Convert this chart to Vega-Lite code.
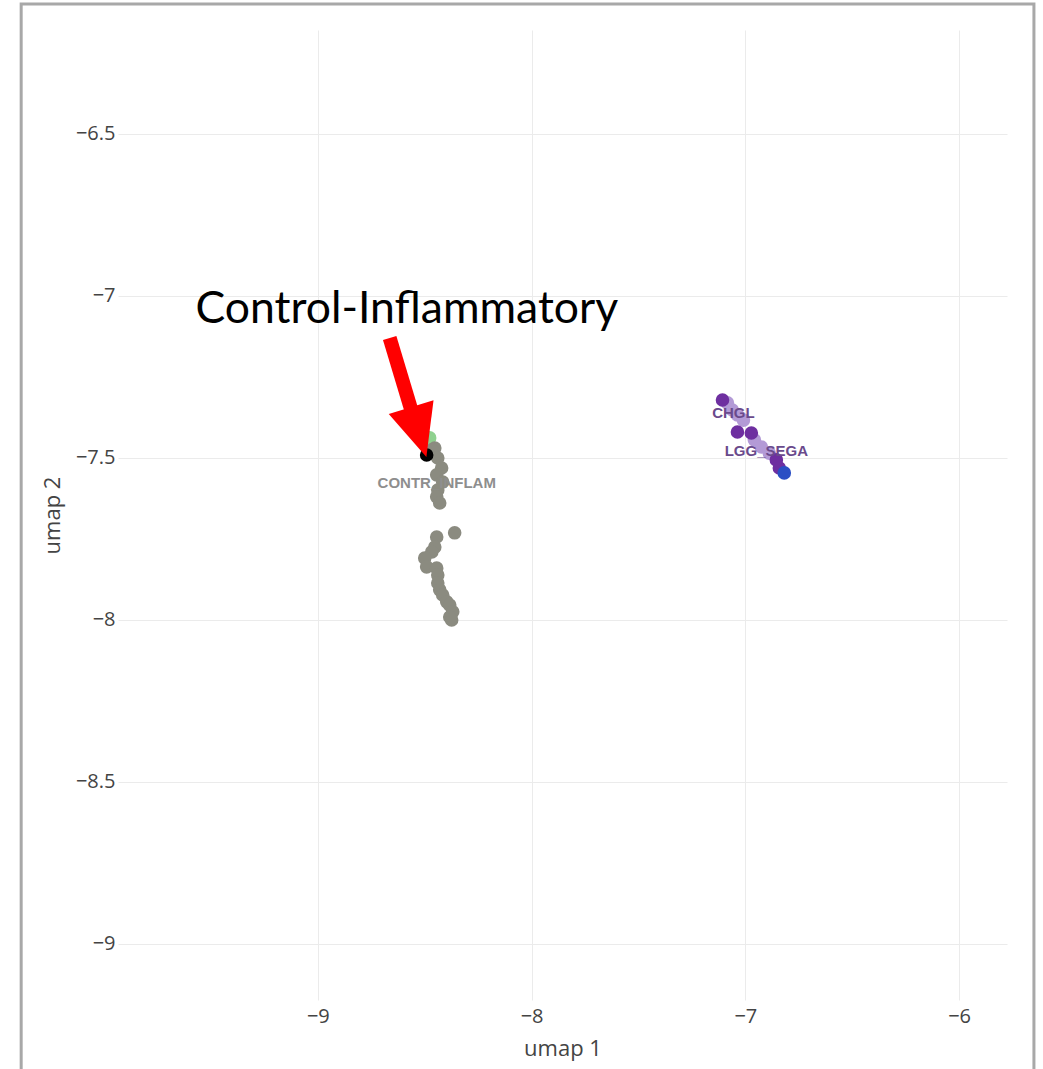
{
  "$schema": "https://vega.github.io/schema/vega-lite/v6.json",
  "width": 889,
  "height": 970,
  "autosize": {"type": "none"},
  "padding": {"left": 118, "top": 30, "right": 36, "bottom": 69},
  "background": "white",
  "config": {
    "view": {"stroke": null},
    "axis": {
      "domain": false,
      "ticks": false,
      "grid": true,
      "gridColor": "#ebebeb",
      "gridWidth": 1,
      "labelFont": "Open Sans",
      "labelFontSize": 20,
      "labelColor": "#444444",
      "titleFont": "Open Sans",
      "titleFontSize": 22,
      "titleFontWeight": "normal",
      "titleColor": "#444444"
    }
  },
  "datasets": {
    "frame": [{"x": -10.388, "xe": -5.65, "y": -6.099, "ye": -9.45}],
    "pts": [
      {"x": -8.477, "y": -7.438, "g": "green"},
      {"x": -8.453, "y": -7.469, "g": "gray"},
      {"x": -8.467, "y": -7.475, "g": "gray"},
      {"x": -8.439, "y": -7.5, "g": "gray"},
      {"x": -8.421, "y": -7.531, "g": "gray"},
      {"x": -8.444, "y": -7.552, "g": "gray"},
      {"x": -8.416, "y": -7.574, "g": "gray"},
      {"x": -8.439, "y": -7.599, "g": "gray"},
      {"x": -8.444, "y": -7.62, "g": "gray"},
      {"x": -8.43, "y": -7.639, "g": "gray"},
      {"x": -8.36, "y": -7.731, "g": "gray"},
      {"x": -8.444, "y": -7.744, "g": "gray"},
      {"x": -8.453, "y": -7.775, "g": "gray"},
      {"x": -8.467, "y": -7.79, "g": "gray"},
      {"x": -8.5, "y": -7.809, "g": "gray"},
      {"x": -8.491, "y": -7.836, "g": "gray"},
      {"x": -8.444, "y": -7.84, "g": "gray"},
      {"x": -8.439, "y": -7.861, "g": "gray"},
      {"x": -8.439, "y": -7.886, "g": "gray"},
      {"x": -8.43, "y": -7.907, "g": "gray"},
      {"x": -8.416, "y": -7.923, "g": "gray"},
      {"x": -8.397, "y": -7.944, "g": "gray"},
      {"x": -8.383, "y": -7.954, "g": "gray"},
      {"x": -8.369, "y": -7.975, "g": "gray"},
      {"x": -8.383, "y": -7.991, "g": "gray"},
      {"x": -8.374, "y": -8.0, "g": "gray"},
      {"x": -8.491, "y": -7.491, "g": "black"},
      {"x": -7.084, "y": -7.33, "g": "light"},
      {"x": -7.061, "y": -7.352, "g": "light"},
      {"x": -7.037, "y": -7.367, "g": "light"},
      {"x": -7.009, "y": -7.383, "g": "light"},
      {"x": -6.958, "y": -7.444, "g": "light"},
      {"x": -6.925, "y": -7.466, "g": "light"},
      {"x": -6.888, "y": -7.485, "g": "light"},
      {"x": -7.107, "y": -7.321, "g": "dark"},
      {"x": -7.037, "y": -7.42, "g": "dark"},
      {"x": -6.972, "y": -7.423, "g": "dark"},
      {"x": -6.855, "y": -7.506, "g": "dark"},
      {"x": -6.841, "y": -7.531, "g": "dark"},
      {"x": -6.818, "y": -7.546, "g": "blue"}
    ],
    "labels": [
      {"x": -8.444, "y": -7.577, "label": "CONTR_INFLAM", "g": "ctrl"},
      {"x": -7.056, "y": -7.361, "label": "CHGL", "g": "purple"},
      {"x": -6.902, "y": -7.478, "label": "LGG_SEGA", "g": "purple"}
    ],
    "annot": [{"x": -8.584, "y": -7.083, "label": "Control-Inflammatory"}],
    "shaft": [{"x": -8.664, "y": -7.13, "xe": -8.556, "ye": -7.367}],
    "head": [{"x": -8.528, "y": -7.42}]
  },
  "layer": [
    {
      "data": {"name": "pts"},
      "mark": {"type": "circle", "size": 185, "opacity": 1},
      "encoding": {
        "x": {"field": "x", "type": "quantitative", "title": "umap 1",
          "scale": {"domain": [-9.935, -5.776], "nice": false, "zero": false},
          "axis": {"values": [-9, -8, -7, -6], "format": "~g", "labelPadding": 6, "titlePadding": 12}},
        "y": {"field": "y", "type": "quantitative", "title": "umap 2",
          "scale": {"domain": [-9.173, -6.179], "nice": false, "zero": false},
          "axis": {"values": [-6.5, -7, -7.5, -8, -8.5, -9], "format": "~g", "labelPadding": 3, "titlePadding": 11}},
        "color": {"field": "g", "type": "nominal", "legend": null,
          "scale": {"domain": ["green", "gray", "black", "light", "dark", "blue"],
                    "range": ["#8fd18f", "#8b8b80", "#000000", "#b39ad6", "#6e2fa0", "#2b4fc4"]}},
        "opacity": {"field": "g", "type": "nominal", "legend": null,
          "scale": {"domain": ["green", "gray", "black", "light", "dark", "blue"],
                    "range": [1, 1, 1, 0.7, 1, 1]}}
      }
    },
    {
      "data": {"name": "labels"},
      "mark": {"type": "text", "font": "Liberation Sans", "fontWeight": "bold", "fontSize": 15, "align": "center", "baseline": "middle"},
      "encoding": {
        "x": {"field": "x", "type": "quantitative", "title": "umap 1"},
        "y": {"field": "y", "type": "quantitative", "title": "umap 2"},
        "text": {"field": "label"},
        "color": {"field": "g", "type": "nominal", "legend": null,
          "scale": {"domain": ["ctrl", "purple"], "range": ["#8e8e8e", "#6a4a8c"]}}
      }
    },
    {
      "data": {"name": "frame"},
      "mark": {"type": "rect", "filled": false, "stroke": "#a8a8a8", "strokeWidth": 3, "clip": false},
      "encoding": {
        "x": {"field": "x", "type": "quantitative", "title": "umap 1"},
        "x2": {"field": "xe"},
        "y": {"field": "y", "type": "quantitative", "title": "umap 2"},
        "y2": {"field": "ye"}
      }
    },
    {
      "data": {"name": "shaft"},
      "mark": {"type": "rule", "color": "#ff0000", "strokeWidth": 14, "strokeCap": "butt"},
      "encoding": {
        "x": {"field": "x", "type": "quantitative", "title": "umap 1"},
        "x2": {"field": "xe"},
        "y": {"field": "y", "type": "quantitative", "title": "umap 2"},
        "y2": {"field": "ye"}
      }
    },
    {
      "data": {"name": "head"},
      "mark": {"type": "point", "shape": "M-0.9,-1L0.9,-1L0,1Z", "filled": true, "color": "#ff0000", "opacity": 1, "size": 2704, "angle": 343, "strokeWidth": 0},
      "encoding": {
        "x": {"field": "x", "type": "quantitative", "title": "umap 1"},
        "y": {"field": "y", "type": "quantitative", "title": "umap 2"}
      }
    },
    {
      "data": {"name": "annot"},
      "mark": {"type": "text", "font": "Lato", "fontSize": 44.5, "align": "center", "baseline": "alphabetic", "color": "#000000"},
      "encoding": {
        "x": {"field": "x", "type": "quantitative", "title": "umap 1"},
        "y": {"field": "y", "type": "quantitative", "title": "umap 2"},
        "text": {"field": "label"}
      }
    }
  ],
  "resolve": {"scale": {"color": "independent"}}
}
